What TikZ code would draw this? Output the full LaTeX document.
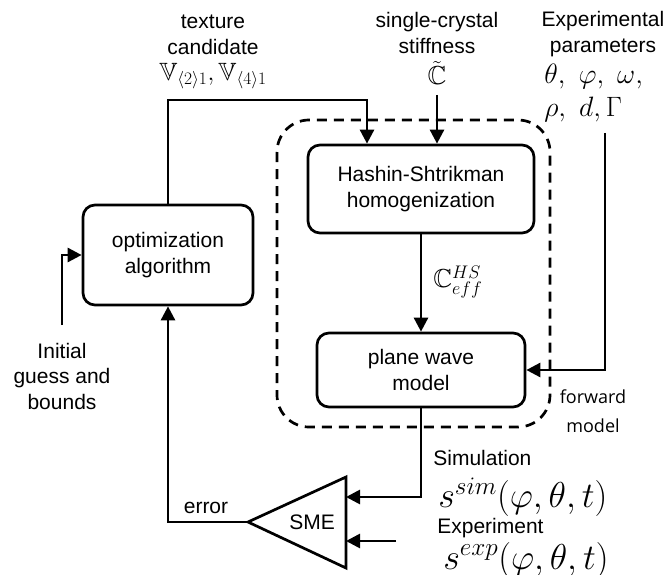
\RequirePackage{fix-cm}
\documentclass[tikz,border=0pt]{standalone}
\usepackage{amssymb}
\usepackage[no-math]{fontspec}
\newfontfamily\labelsans{Liberation Sans}
\newfontfamily\notesans{Open Sans}
\usetikzlibrary{arrows.meta}

\begin{document}
\begin{tikzpicture}[x=1pt,y=-1pt,
  line width=2.7pt,
  arr/.style={-{Triangle[length=14pt,width=14pt]}},
  block/.style={draw, rounded corners=12pt, inner sep=0pt, align=center,
    font=\labelsans\fontsize{21}{25.5}\selectfont},
  txt/.style={inner sep=0pt, align=center, font=\labelsans\fontsize{21}{25.5}\selectfont},
  mth/.style={inner sep=0pt, font=\fontsize{26}{33}\selectfont},
  bigmth/.style={inner sep=0pt, font=\fontsize{36}{40}\selectfont},
  note/.style={inner sep=0pt, align=center, font=\notesans\fontsize{18}{29}\selectfont},
  frame/.style={draw, dash pattern=on 10pt off 7pt, rounded corners=32pt}
]
\useasboundingbox (0,0) rectangle (669,575);

% processing blocks
\node[block, minimum width=170pt, minimum height=100pt] (opt) at (168,255) {optimization\\algorithm};
\node[block, minimum width=226pt, minimum height=88pt] (hs) at (421,189) {Hashin-Shtrikman\\homogenization};
\node[block, minimum width=208pt, minimum height=74pt] (pw) at (421,370) {plane wave\\model};

% forward model frame
\draw[frame] (277,120) rectangle (550,427);
\node[note] (fwd) at (593,411) {forward\\model};

% inputs on top
\node[txt] (texlbl) at (213,35) {texture\\candidate};
\node[mth, font=\fontsize{25}{30}\selectfont] (texmath) at (213,76) {$\mathbb{V}_{\langle 2\rangle 1},\mathbb{V}_{\langle 4\rangle 1}$};
\node[txt] (sclbl) at (437,33) {single-crystal\\stiffness};
\node[mth] (scmath) at (437,73) {$\tilde{\mathbb{C}}$};
\node[txt] (eplbl) at (603,34) {Experimental\\parameters};
\node[mth, font=\fontsize{28}{33}\selectfont, anchor=west, align=left] (epmath) at (543,93) {$\theta,\ \varphi,\ \omega,$\\$\rho,\ d,\Gamma$};

% left input
\node[txt] (initlbl) at (62,376) {Initial\\guess and\\bounds};

% comparison
\draw (248,522) -- (346,477) -- (346,568) -- cycle;
\coordinate (apex) at (248,522);
\coordinate (simin) at (346,497);
\coordinate (expin) at (346,541);
\node[txt] (sme) at (312,522) {SME};
\node[txt] (errlbl) at (206,508) {error};

\node[txt, anchor=west] (simlbl) at (432,458) {Simulation};
\node[bigmth, anchor=west] (simmath) at (437,497) {$s^{sim}(\varphi,\theta,t)$};
\node[txt, anchor=west] (explbl) at (436,528) {Experiment};
\node[bigmth, anchor=west] (expmath) at (442,560) {$s^{exp}(\varphi,\theta,t)$};

% connector end points
\coordinate (texbend) at (367,100);
\coordinate (sctop) at (437,95);
\coordinate (eptop) at (605,133);
\coordinate (inittop) at (62,325);
\coordinate (expsrc) at (396,541);

% connectors
\draw[arr] (opt.north) |- (texbend) -- (texbend |- hs.north);
\draw[arr] (sctop) -- (sctop |- hs.north);
\draw[arr] (hs.south) -- (pw.north);
\node[mth, anchor=west] (ceff) at (432,282) {$\mathbb{C}^{HS}_{eff}$};
\draw[arr] (eptop) |- (pw.east);
\draw[arr] (pw.south) |- (simin);
\draw[arr] (expsrc) -- (expin);
\draw[arr] (apex) -| (opt.south);
\draw[arr] (inittop) |- (opt.west);
\end{tikzpicture}
\end{document}
